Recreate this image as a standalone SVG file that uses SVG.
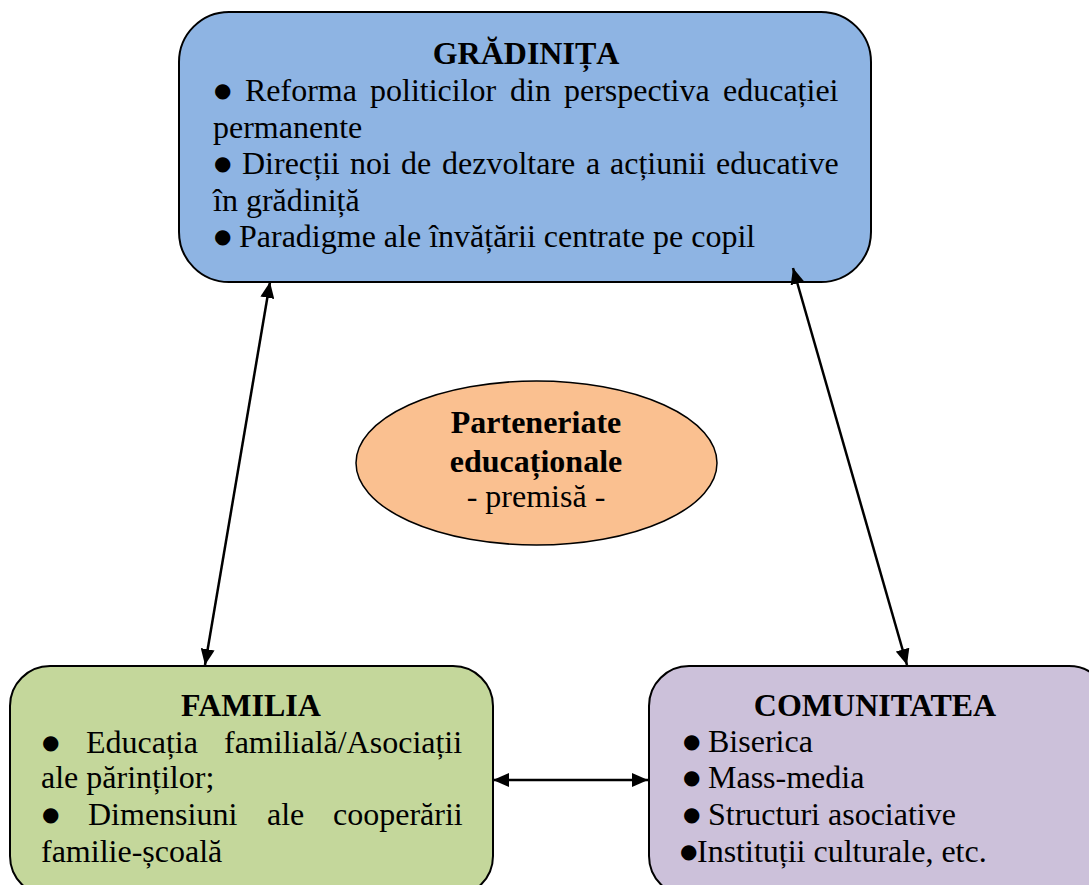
<svg xmlns="http://www.w3.org/2000/svg" width="1089" height="885" viewBox="0 0 1089 885">
<style>
.box{stroke:#000;stroke-width:2}
.t{font-family:"Liberation Serif","Times New Roman",serif;font-size:32px;fill:#000}
.b{font-weight:bold}
.c{text-anchor:middle}
.bu{font-family:"DejaVu Sans",sans-serif;font-size:20px}
.ln{stroke:#000;stroke-width:2.5;fill:none;marker-start:url(#ah);marker-end:url(#ah)}
</style>
<defs>
<marker id="ah" viewBox="0 0 16 14" refX="16" refY="7" markerWidth="16" markerHeight="14" markerUnits="userSpaceOnUse" orient="auto-start-reverse">
<path d="M0,0 L16,7 L0,14 z" fill="#000"/>
</marker>
</defs>
<rect width="1089" height="885" fill="#fff"/>
<g id="gradinita">
<rect class="box" x="179" y="12" width="692" height="270" rx="50" ry="50" fill="#8EB4E3"/>
<text class="t b c" x="526" y="64">GRĂDINIȚA</text>
<text class="t" y="101"><tspan class="bu" x="214" dy="-4">●</tspan><tspan x="245" dy="4">Reforma</tspan><tspan x="370">politicilor</tspan><tspan x="510">din</tspan><tspan x="564">perspectiva</tspan><tspan x="723">educației</tspan></text>
<text class="t" x="213" y="138">permanente</text>
<text class="t" y="174"><tspan class="bu" x="214" dy="-4">●</tspan><tspan x="242" dy="4">Direcții</tspan><tspan x="350">noi</tspan><tspan x="401">de</tspan><tspan x="442">dezvoltare</tspan><tspan x="586">a</tspan><tspan x="610">acțiunii</tspan><tspan x="716">educative</tspan></text>
<text class="t" x="213" y="211">în grădiniță</text>
<text class="t" y="247"><tspan class="bu" x="214" dy="-4">●</tspan><tspan x="239" dy="4">Paradigme ale învățării centrate pe copil</tspan></text>
</g>
<g id="parteneriate">
<ellipse cx="536.5" cy="463" rx="180.5" ry="82" fill="#FAC090" stroke="#000" stroke-width="1.5"/>
<text class="t b c" x="536" y="433">Parteneriate</text>
<text class="t b c" x="536" y="472">educaționale</text>
<text class="t c" x="536" y="507">- premisă -</text>
</g>
<g id="familia">
<rect class="box" x="10" y="666" width="483" height="230" rx="40" ry="40" fill="#C4D79B"/>
<text class="t b c" x="251" y="716">FAMILIA</text>
<text class="t" y="753"><tspan class="bu" x="42" dy="-4">●</tspan><tspan x="86" dy="4">Educația</tspan><tspan x="224">familială/Asociații</tspan></text>
<text class="t" x="41" y="788">ale părinților;</text>
<text class="t" y="825"><tspan class="bu" x="42" dy="-4">●</tspan><tspan x="88" dy="4">Dimensiuni</tspan><tspan x="267">ale</tspan><tspan x="333">cooperării</tspan></text>
<text class="t" x="41" y="862">familie-școală</text>
</g>
<g id="comunitatea">
<rect class="box" x="649" y="666" width="460" height="230" rx="40" ry="40" fill="#CCC1DA"/>
<text class="t b c" x="875" y="716">COMUNITATEA</text>
<text class="t" y="752"><tspan class="bu" x="683" dy="-4">●</tspan><tspan x="708" dy="4">Biserica</tspan></text>
<text class="t" y="788"><tspan class="bu" x="683" dy="-4">●</tspan><tspan x="708" dy="4">Mass-media</tspan></text>
<text class="t" y="825"><tspan class="bu" x="683" dy="-4">●</tspan><tspan x="708" dy="4">Structuri asociative</tspan></text>
<text class="t" y="862"><tspan class="bu" x="680" dy="-4">●</tspan><tspan x="697" dy="4">Instituții culturale, etc.</tspan></text>
</g>
<g id="connectors">
<line class="ln" x1="270" y1="282" x2="205" y2="665"/>
<line class="ln" x1="793" y1="268" x2="907" y2="665"/>
<line class="ln" x1="493" y1="780" x2="648" y2="780"/>
</g>
</svg>
